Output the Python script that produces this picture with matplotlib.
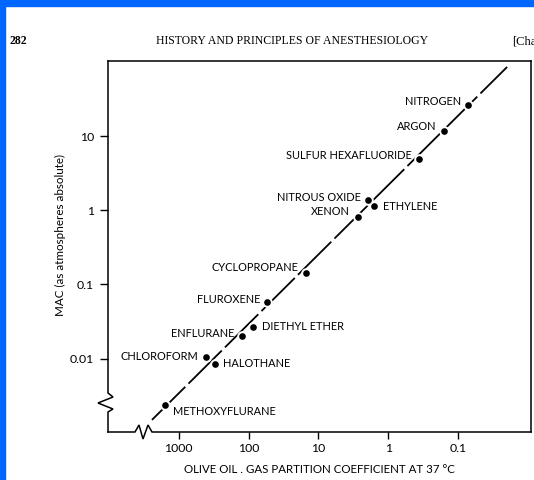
import matplotlib.pyplot as plt
from matplotlib.patches import Rectangle
from matplotlib.ticker import FixedLocator, FixedFormatter, NullLocator

# Olive oil/gas partition coefficient vs MAC (atm)
agents = ['NITROGEN', 'ARGON', 'SULFUR HEXAFLUORIDE', 'NITROUS OXIDE', 'ETHYLENE',
          'XENON', 'CYCLOPROPANE', 'FLUROXENE', 'DIETHYL ETHER', 'ENFLURANE',
          'CHLOROFORM', 'HALOTHANE', 'METHOXYFLURANE']
oil_gas = [0.072, 0.16, 0.364, 1.95, 1.60, 2.71, 15.0, 54.3, 86.3, 124, 405, 301, 1567]
mac = [26.7, 11.9, 4.97, 1.39, 1.15, 0.817, 0.143, 0.058, 0.0267, 0.0201, 0.0105, 0.00843, 0.00236]

# regression line end points
line_x = [2405, 0.020]
line_y = [0.00148, 86.9]

x_ticks = [1000, 100, 10, 1, 0.1]
x_ticklabels = ['1000', '100', '10', '1', '0.1']
y_ticks = [10, 1, 0.1, 0.01]
y_ticklabels = ['10', '1', '0.1', '0.01']

# label placement: (dx, dy) in pixels, horizontal alignment
label_pos = {
    'NITROGEN': (-7, 3, 'right'), 'ARGON': (-7, 4, 'right'),
    'SULFUR HEXAFLUORIDE': (-7, 3, 'right'), 'NITROUS OXIDE': (-7, 2, 'right'),
    'ETHYLENE': (9, -1, 'left'), 'XENON': (-8, 5, 'right'),
    'CYCLOPROPANE': (-8, 6, 'right'), 'FLUROXENE': (-7, 3, 'right'),
    'DIETHYL ETHER': (9, 0, 'left'), 'ENFLURANE': (-8, 3, 'right'),
    'CHLOROFORM': (-8, 0, 'right'), 'HALOTHANE': (8, 0, 'left'),
    'METHOXYFLURANE': (8, -7, 'left'),
}

W, H = 534, 480
fig = plt.figure(figsize=(W / 100, H / 100), dpi=100)
sans = 'Lato'
serif = 'Liberation Serif'

ax = fig.add_axes([108 / W, 1 - 432 / H, (531 - 108) / W, (432 - 61) / H])
ax.set_xscale('log')
ax.set_yscale('log')
ax.set_xlim(10233, 0.0091)
ax.set_ylim(0.001016, 104.7)

ax.plot(line_x, line_y, color='black', lw=1.3, dashes=(26, 2.5), zorder=2)
ax.plot(oil_gas, mac, 'o', ms=4.8, color='black', mec='white', mew=2.8, zorder=3)
ax.plot(oil_gas, mac, 'o', ms=4.8, color='black', mec='black', mew=0, zorder=4)

for name, x, y in zip(agents, oil_gas, mac):
    dx, dy, ha = label_pos[name]
    ax.annotate(name, (x, y), xytext=(dx, dy), textcoords='offset pixels',
                ha=ha, va='center', fontsize=7.9, family=sans, color='black')

ax.xaxis.set_major_locator(FixedLocator(x_ticks))
ax.xaxis.set_major_formatter(FixedFormatter(x_ticklabels))
ax.yaxis.set_major_locator(FixedLocator(y_ticks))
ax.yaxis.set_major_formatter(FixedFormatter(y_ticklabels))
ax.xaxis.set_minor_locator(NullLocator())
ax.yaxis.set_minor_locator(NullLocator())
ax.tick_params(axis='x', direction='out', length=5, width=1, pad=3, labelsize=8.8)
ax.tick_params(axis='y', direction='out', length=6, width=1, pad=4, labelsize=8.8)
for lab in ax.get_xticklabels() + ax.get_yticklabels():
    lab.set_family(sans)

# spines with break marks
for s in ['left', 'bottom']:
    ax.spines[s].set_visible(False)
for s in ['top', 'right']:
    ax.spines[s].set_linewidth(1.1)

def px(xp, yp):
    return ((xp - 108) / (531 - 108), (432 - yp) / (432 - 61))

left_pts = [px(108, 61), px(108, 393), px(113, 397), px(98, 403), px(113, 409), px(108, 412), px(108, 432)]
bot_pts = [px(108, 432), px(135, 432), px(139, 425), px(143, 439), px(148, 425), px(152, 432), px(531, 432)]
for pts in (left_pts, bot_pts):
    ax.plot([p[0] for p in pts], [p[1] for p in pts], color='black', lw=1.1,
            transform=ax.transAxes, clip_on=False, solid_joinstyle='miter')

ax.set_xlabel('OLIVE OIL . GAS PARTITION COEFFICIENT AT 37 °C', family=sans,
              fontsize=8.3, labelpad=7)
ax.set_ylabel('MAC (as atmospheres absolute)', family=sans, fontsize=8.4)
ax.yaxis.set_label_coords(-0.1, 0.53)

# page header
fig.text(10 / W, 1 - 41 / H, '282', family=serif, weight='bold', fontsize=8.5, va='center')
fig.text(292 / W, 1 - 41 / H, 'HISTORY AND PRINCIPLES OF ANESTHESIOLOGY', family=serif,
         fontsize=8.5, va='center', ha='center')
fig.text(512 / W, 1 - 41 / H, '[Cha', family=serif, fontsize=9, va='center')

# blue frame of the scan
fig.patches.append(Rectangle((0, 1 - 6 / H), 1, 6 / H, transform=fig.transFigure,
                             color='#0066ff', zorder=10))
fig.patches.append(Rectangle((0, 0), 5 / W, 1, transform=fig.transFigure,
                             color='#0066ff', zorder=10))

fig.savefig('out.png', dpi=100)
